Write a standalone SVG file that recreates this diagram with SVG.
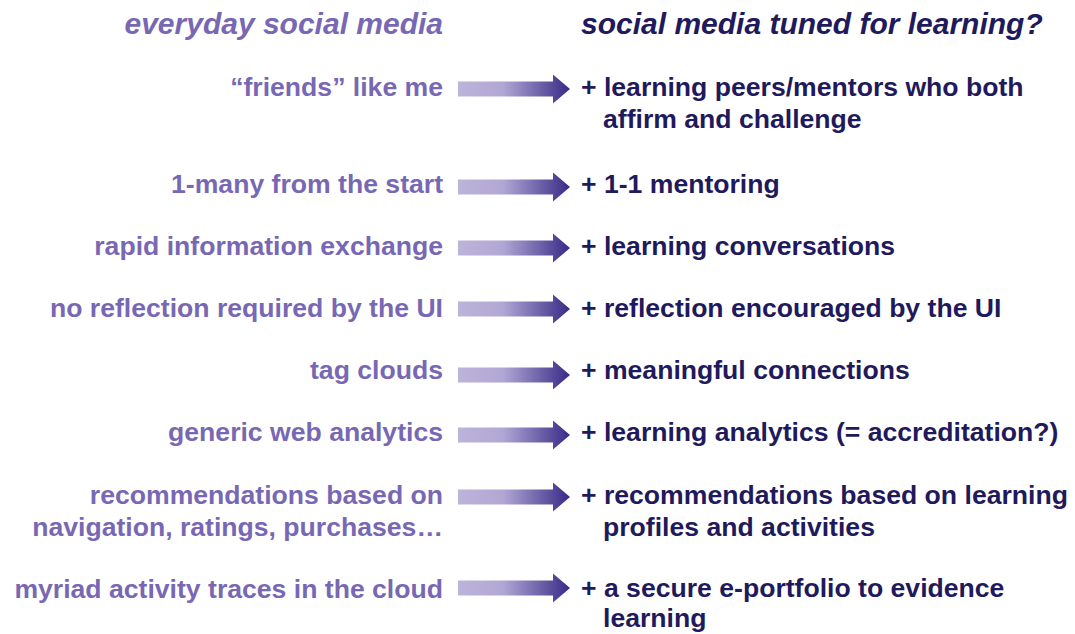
<svg xmlns="http://www.w3.org/2000/svg" width="1075" height="634" viewBox="0 0 1075 634">
  <style>
    text { font-family: "Liberation Sans", Arial, sans-serif; font-weight: bold; }
    .hdr { font-size: 30px; font-style: italic; }
    .l { font-size: 26.6px; fill: #7868b4; text-anchor: end; }
    .r { font-size: 26.6px; fill: #1f1a5c; }
    .hl { fill: #7868b4; text-anchor: end; }
    .hr { fill: #1f1a5c; }
  </style>
  <defs>
    <linearGradient id="ag" x1="0" y1="0" x2="1" y2="0">
      <stop offset="0" stop-color="#bdb4da"/>
      <stop offset="0.4" stop-color="#b1a7d4"/>
      <stop offset="1" stop-color="#382a87"/>
    </linearGradient>
    <path id="arrow" d="M0,-7.5 H95 V-14.5 L112,0 L95,14.5 V7.5 H0 Z" fill="url(#ag)"/>
  </defs>
  <rect width="1075" height="634" fill="#ffffff"/>

  <g id="headers">
    <text class="hdr hl" x="443" y="34">everyday social media</text>
    <text class="hdr hr" x="581" y="34">social media tuned for learning?</text>
  </g>

  <g id="left">
    <text class="l" x="443" y="96">“friends” like me</text>
    <text class="l" x="443" y="193">1-many from the start</text>
    <text class="l" x="443" y="255">rapid information exchange</text>
    <text class="l" x="443" y="317">no reflection required by the UI</text>
    <text class="l" x="443" y="379">tag clouds</text>
    <text class="l" x="443" y="441">generic web analytics</text>
    <text class="l" x="443" y="504">recommendations based on</text>
    <text class="l" x="443" y="536">navigation, ratings, purchases…</text>
    <text class="l" x="443" y="598">myriad activity traces in the cloud</text>
  </g>

  <g id="connectors">
    <use href="#arrow" transform="translate(458,89)"/>
    <use href="#arrow" transform="translate(458,187)"/>
    <use href="#arrow" transform="translate(458,248)"/>
    <use href="#arrow" transform="translate(458,309)"/>
    <use href="#arrow" transform="translate(458,375)"/>
    <use href="#arrow" transform="translate(458,435)"/>
    <use href="#arrow" transform="translate(458,497)"/>
    <use href="#arrow" transform="translate(458,588)"/>
  </g>

  <g id="right">
    <text class="r" x="581" y="96">+ learning peers/mentors who both</text>
    <text class="r" x="603" y="128">affirm and challenge</text>
    <text class="r" x="581" y="193">+ 1-1 mentoring</text>
    <text class="r" x="581" y="255">+ learning conversations</text>
    <text class="r" x="581" y="317">+ reflection encouraged by the UI</text>
    <text class="r" x="581" y="379">+ meaningful connections</text>
    <text class="r" x="581" y="441">+ learning analytics (= accreditation?)</text>
    <text class="r" x="581" y="504">+ recommendations based on learning</text>
    <text class="r" x="603" y="536">profiles and activities</text>
    <text class="r" x="581" y="597">+ a secure e-portfolio to evidence</text>
    <text class="r" x="603" y="627">learning</text>
  </g>
</svg>
